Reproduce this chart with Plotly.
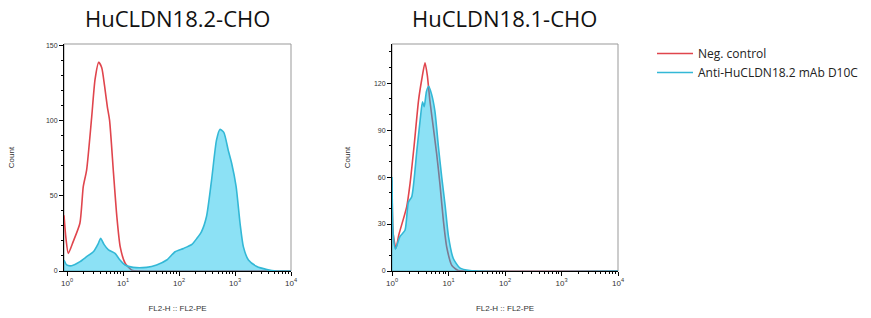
import plotly.graph_objects as go

# ---------------- data (x = log10 fluorescence intensity, y = count) ----------------
panel_titles = ["HuCLDN18.2-CHO", "HuCLDN18.1-CHO"]
series_names = ["Neg. control", "Anti-HuCLDN18.2 mAb D10C"]

# Panel 1: HuCLDN18.2-CHO
p1_neg_log = [-0.054, -0.02, 0.023, 0.11, 0.23, 0.29, 0.35, 0.44, 0.5, 0.565, 0.62, 0.67,
              0.72, 0.76, 0.83, 0.89, 0.95, 1.04, 1.16, 1.3, 4.0]
p1_neg_cnt = [37, 22, 11.7, 19.5, 31.7, 56, 67, 102, 127, 138.5, 135, 123,
              109, 100, 65, 36, 16, 5, 0.5, 0, 0]
p1_mab_log = [-0.054, -0.006, 0.083, 0.232, 0.35, 0.47, 0.56, 0.60, 0.66, 0.74, 0.857, 0.946,
              1.036, 1.18, 1.42, 1.6, 1.78, 1.93, 2.08, 2.23, 2.32, 2.40, 2.49, 2.58, 2.67,
              2.73, 2.80, 2.88, 2.94, 3.02, 3.09, 3.15, 3.24, 3.39, 3.57, 3.74, 4.0]
p1_mab_cnt = [7.3, 4, 3.5, 6.2, 9.5, 12.8, 18.4, 21.7, 17.7, 14, 11.7, 7.3,
              4, 2.4, 2.4, 4, 7.3, 12.8, 15, 17.7, 21.7, 26, 36, 60, 87,
              94, 92, 80, 71.5, 56, 31.7, 16, 7.3, 3, 1, 0, 0]

# Panel 2: HuCLDN18.1-CHO
p2_neg_log = [0.0, 0.02, 0.07, 0.12, 0.26, 0.32, 0.39, 0.47, 0.525, 0.584, 0.625, 0.67,
              0.73, 0.79, 0.85, 0.91, 0.97, 1.06, 1.17, 1.3, 4.0]
p2_neg_cnt = [58, 24, 14.5, 23, 41, 56, 79.5, 109, 122, 133, 125, 109,
              92, 75, 55, 32, 15, 3.5, 0.3, 0, 0]
p2_mab_log = [0.0, 0.02, 0.06, 0.14, 0.23, 0.29, 0.35, 0.44, 0.50, 0.54, 0.57, 0.61, 0.65,
              0.70, 0.76, 0.82, 0.88, 0.94, 1.0, 1.085, 1.2, 1.38, 4.0]
p2_mab_cnt = [60, 24, 14, 22, 26, 44, 47.5, 77, 97, 108, 105, 114.7, 118,
              113, 102, 80, 60, 42, 22, 8, 2, 0.3, 0]

y_major_1 = [0, 50, 100, 150]
y_major_2 = [0, 30, 60, 90, 120]
x_major = [1, 10, 100, 1000, 10000]
x_major_text = ["10<sup>0</sup>", "10<sup>1</sup>", "10<sup>2</sup>", "10<sup>3</sup>", "10<sup>4</sup>"]

# ---------------- styles ----------------
RED = "#e0454d"
BLUE_LINE = "#33b8d6"
BLUE_FILL = "rgba(0,188,233,0.45)"

fig = go.Figure()

panels = [
    (p1_neg_log, p1_neg_cnt, p1_mab_log, p1_mab_cnt, "x", "y"),
    (p2_neg_log, p2_neg_cnt, p2_mab_log, p2_mab_cnt, "x2", "y2"),
]
for i, (nl, nc, ml, mc, xa, ya) in enumerate(panels):
    nx = [10 ** v for v in nl]
    mx = [10 ** v for v in ml]
    fig.add_trace(go.Scatter(x=nx, y=nc, mode="lines", line=dict(color=RED, width=1.6, shape="spline", smoothing=0.6),
                             name=series_names[0], legendgroup="neg", showlegend=(i == 0),
                             xaxis=xa, yaxis=ya))
    fig.add_trace(go.Scatter(x=mx, y=mc, mode="none", fill="tozeroy", fillcolor=BLUE_FILL,
                             line=dict(shape="spline", smoothing=0.6),
                             showlegend=False, legendgroup="mab", hoverinfo="skip",
                             xaxis=xa, yaxis=ya))
    fig.add_trace(go.Scatter(x=mx, y=mc, mode="lines", line=dict(color=BLUE_LINE, width=1.6, shape="spline", smoothing=0.6),
                             name=series_names[1], legendgroup="mab", showlegend=(i == 0),
                             xaxis=xa, yaxis=ya))

W, H = 871, 318
x_dom = [[64 / W, 291 / W], [392 / W, 618 / W]]
y_dom = [(318 - 271) / H, (318 - 44) / H]

tickfont = dict(family="Liberation Sans", size=8, color="#333")
minor_x = [m * 10 ** d for d in range(0, 4) for m in range(2, 10)]

def xaxis(dom, rng):
    return dict(type="log", domain=dom, range=rng, showgrid=False, zeroline=False, automargin=False,
                showline=True, linecolor="black", linewidth=1,
                ticks="outside", ticklen=4, tickcolor="black",
                tickvals=x_major, ticktext=x_major_text, tickfont=tickfont,
                minor=dict(tickvals=minor_x, ticks="outside", ticklen=2, tickcolor="black"),
                title=dict(text="FL2-H :: FL2-PE", font=dict(family="Liberation Sans", size=8, color="#333"),
                           standoff=18))

def yaxis(dom, rng, major, standoff, anchor):
    return dict(domain=dom, range=rng, showgrid=False, zeroline=False, anchor=anchor, automargin=False,
                showline=True, linecolor="black", linewidth=1,
                ticks="outside", ticklen=4, tickcolor="black",
                tickvals=major, tickfont=dict(family="Liberation Sans", size=7, color="#333"),
                minor=dict(dtick=10, ticks="outside", ticklen=2, tickcolor="black"),
                title=dict(text="Count", font=dict(family="Liberation Sans", size=8, color="#333"),
                           standoff=standoff))

fig.update_layout(
    width=W, height=H,
    margin=dict(l=0, r=0, t=0, b=0),
    paper_bgcolor="white", plot_bgcolor="white",
    xaxis=dict(**xaxis(x_dom[0], [-0.054, 4.0]), anchor="y"),
    yaxis=yaxis(y_dom, [0, 150.7], y_major_1, 30, "x"),
    xaxis2=dict(**xaxis(x_dom[1], [0.0, 4.0]), anchor="y2"),
    yaxis2=yaxis(y_dom, [0, 145], y_major_2, 22, "x2"),
    legend=dict(x=652 / W, y=1 - 39 / H, xanchor="left", yanchor="top", itemwidth=36,
                font=dict(family="Open Sans", size=12, color="#222"),
                bgcolor="rgba(0,0,0,0)", tracegroupgap=0),
    showlegend=True,
)

for k, (xr, yr) in enumerate([("x", "y"), ("x2", "y2")]):
    fig.add_shape(type="rect", xref=f"{xr} domain", yref=f"{yr} domain", x0=0, x1=1, y0=0, y1=1,
                  line=dict(color="#999", width=1), layer="below")
    fig.add_annotation(text=panel_titles[k], xref="paper", yref="paper",
                       x=sum(x_dom[k]) / 2, y=1 - 18 / H, xanchor="center", yanchor="middle",
                       showarrow=False, font=dict(family="Open Sans", size=22, color="#111"))

fig.write_html("out.html", config={"displayModeBar": False},
               post_script="document.body.style.margin='0';")
